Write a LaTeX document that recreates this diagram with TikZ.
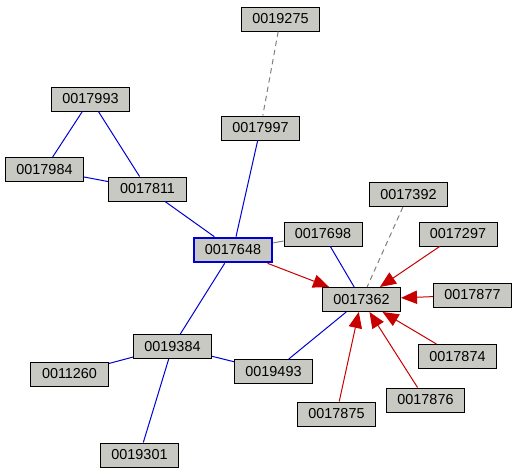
\documentclass[tikz,border=0pt]{standalone}
\usepackage{fontspec}
\setmainfont{Liberation Sans}
\usetikzlibrary{arrows.meta}
\definecolor{boxfill}{RGB}{200,201,195}
\definecolor{eblue}{RGB}{0,0,210}
\definecolor{ered}{RGB}{200,0,0}
\definecolor{egray}{RGB}{128,128,128}
\begin{document}
\begin{tikzpicture}[x=0.75pt,y=-0.75pt,
  nbox/.style={draw=black,fill=boxfill,line width=0.75pt,minimum width=58.5pt,minimum height=18pt,inner sep=0pt,font=\fontsize{10.8}{12}\selectfont},
  focus/.style={nbox,draw=eblue,line width=2pt},
  bl/.style={draw=eblue,line width=0.75pt},
  gr/.style={draw=egray,line width=0.75pt,dashed,dash pattern=on 4pt off 3pt},
  rd/.style={draw=ered,line width=0.75pt,-{Triangle[length=12pt,width=10pt]}}]
\useasboundingbox (0,0) rectangle (518,475);
\node[nbox] (n19275) at (280.5,19) {0019275};
\node[nbox] (n17993) at (90.5,99) {0017993};
\node[nbox] (n17997) at (260.5,128) {0017997};
\node[nbox] (n17984) at (44.5,169.5) {0017984};
\node[nbox] (n17811) at (147.5,189) {0017811};
\node[nbox] (n17392) at (408.5,194.5) {0017392};
\node[focus] (n17648) at (233,250) {0017648};
\node[nbox] (n17698) at (323,234) {0017698};
\node[nbox] (n17297) at (458,234) {0017297};
\node[nbox] (n17362) at (361.5,299.5) {0017362};
\node[nbox] (n17877) at (472.5,295) {0017877};
\node[nbox] (n19384) at (172.5,346.5) {0019384};
\node[nbox] (n17874) at (457.5,356.5) {0017874};
\node[nbox] (n11260) at (69.5,374) {0011260};
\node[nbox] (n19493) at (273.5,371.5) {0019493};
\node[nbox] (n17876) at (425.5,400) {0017876};
\node[nbox] (n17875) at (336.5,414) {0017875};
\node[nbox] (n19301) at (139.5,455) {0019301};
% blue edges
\draw[bl] (n17993) -- (n17984);
\draw[bl] (n17993) -- (n17811);
\draw[bl] (n17984) -- (n17811);
\draw[bl] (n17811) -- (n17648);
\draw[bl] (n17997) -- (n17648);
\draw[bl] (n17648) -- (n19384);
\draw[bl] (n17698) -- (n17362);
\draw[bl] (n19384) -- (n11260);
\draw[bl] (n19384) -- (n19493);
\draw[bl] (n19384) -- (n19301);
\draw[bl] (n17362) -- (n19493);
% gray edges
\draw[gr] (n19275) -- (n17997);
\draw[gr] (n17392) -- (n17362);
\draw[draw=egray,line width=0.75pt] (n17648) -- (n17698);
% red arrows
\draw[rd] (n17648) -- (n17362);
\draw[rd] (n17297) -- (n17362);
\draw[rd] (n17877) -- (n17362);
\draw[rd] (n17874) -- (n17362);
\draw[rd] (n17876) -- (n17362);
\draw[rd] (n17875) -- (n17362);
\end{tikzpicture}
\end{document}
